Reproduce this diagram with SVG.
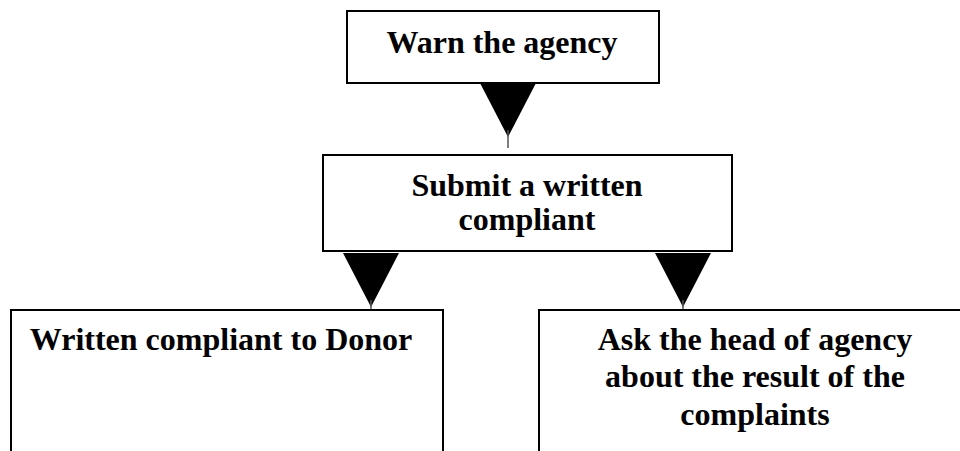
<svg xmlns="http://www.w3.org/2000/svg" width="960" height="451" viewBox="0 0 960 451">
<style>
.box{fill:#fff;stroke:#000;stroke-width:2}
.t{font-family:"Liberation Serif","Times New Roman",serif;font-weight:bold;font-size:32px;fill:#000;text-anchor:middle}
.head{fill:#000;stroke:none}
.stem{stroke:#555;stroke-width:1.5}
</style>
<rect width="960" height="451" fill="#fff"/>
<g id="connectors">
<polygon class="head" points="480,83 536,83 508,137"/>
<line class="stem" x1="508" y1="130" x2="508" y2="148"/>
<polygon class="head" points="343,253 399,253 371,307"/>
<line class="stem" x1="371" y1="300" x2="371" y2="318"/>
<polygon class="head" points="655,253 711,253 683,307"/>
<line class="stem" x1="683" y1="300" x2="683" y2="318"/>
</g>
<g id="warn">
<rect class="box" x="347" y="11" width="312" height="72"/>
<text class="t" x="502" y="53">Warn the agency</text>
</g>
<g id="submit">
<rect class="box" x="323" y="155" width="409" height="96"/>
<text class="t" x="527" y="196">Submit a written</text>
<text class="t" x="527" y="230">compliant</text>
</g>
<g id="donor">
<rect class="box" x="11" y="310" width="432" height="160"/>
<text class="t" x="221" y="350">Written compliant to Donor</text>
</g>
<g id="ask">
<rect class="box" x="539" y="310" width="440" height="160"/>
<text class="t" x="755" y="350">Ask the head of agency</text>
<text class="t" x="755" y="387">about the result of the</text>
<text class="t" x="755" y="425">complaints</text>
</g>
</svg>
